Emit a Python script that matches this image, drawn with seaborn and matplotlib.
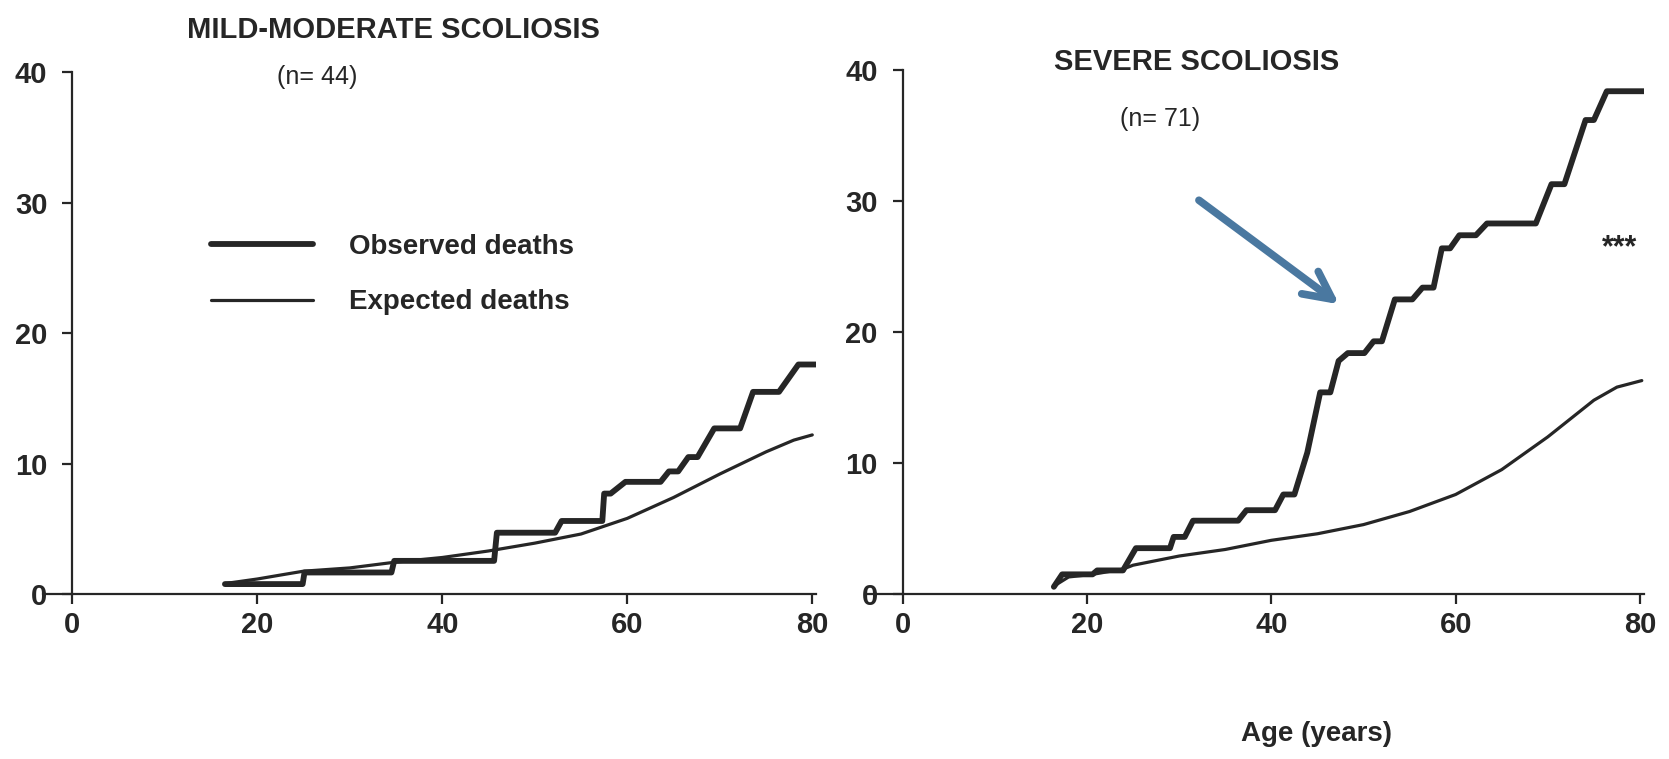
import numpy as np
import pandas as pd
import seaborn as sns
import matplotlib.pyplot as plt

# --- datos ---
mild_obs_age = [16.5, 24.9, 25.1, 34.5, 34.8, 45.6, 45.9, 52.2, 52.9, 57.3, 57.5, 58.2, 59.8, 63.6,
                64.5, 65.5, 66.6, 67.6, 69.4, 72.2, 73.6, 76.4, 78.5, 80.4]
mild_obs_val = [0.76, 0.76, 1.65, 1.65, 2.54, 2.54, 4.7, 4.7, 5.6, 5.6, 7.7, 7.7, 8.6, 8.6,
                9.4, 9.4, 10.5, 10.5, 12.7, 12.7, 15.5, 15.5, 17.6, 17.6]
mild_exp_age = [16.5, 20, 22.9, 25, 30, 35, 40, 45, 50, 55, 60, 65, 70, 75, 78, 80]
mild_exp_val = [0.8, 1.15, 1.5, 1.75, 2.0, 2.45, 2.8, 3.3, 3.9, 4.6, 5.8, 7.4, 9.2, 10.9, 11.8, 12.2]

sev_obs_age = [16.4, 17.3, 20.6, 21.1, 23.9, 25.3, 29.0, 29.4, 30.6, 31.5, 36.4, 37.3, 40.4, 41.3,
               42.5, 43.9, 45.3, 46.4, 47.3, 48.3, 50.1, 51.1, 52.0, 53.4, 55.3, 56.4, 57.6, 58.5,
               59.4, 60.4, 62.2, 63.4, 68.7, 70.4, 71.8, 74.1, 75.0, 76.4, 80.6]
sev_obs_val = [0.55, 1.5, 1.5, 1.8, 1.8, 3.5, 3.5, 4.36, 4.36, 5.6, 5.6, 6.4, 6.4, 7.6,
               7.6, 10.8, 15.4, 15.4, 17.8, 18.4, 18.4, 19.3, 19.3, 22.5, 22.5, 23.4, 23.4, 26.4,
               26.4, 27.4, 27.4, 28.3, 28.3, 31.3, 31.3, 36.2, 36.2, 38.4, 38.4]
sev_exp_age = [16.4, 18, 20.6, 23.9, 25, 30, 35, 40, 45, 50, 55, 60, 65, 70, 75, 77.5, 80.2]
sev_exp_val = [0.6, 1.3, 1.5, 1.9, 2.2, 2.9, 3.4, 4.1, 4.6, 5.3, 6.3, 7.6, 9.5, 12.0, 14.8, 15.8, 16.3]

x_ticks = [0, 20, 40, 60, 80]
y_ticks = [0, 10, 20, 30, 40]

sns.set_style("ticks")
plt.rcParams['font.family'] = ['Liberation Sans', 'DejaVu Sans']
plt.rcParams['font.weight'] = 'bold'

ink = "#262626"
fig = plt.figure(figsize=(16.69, 7.59), dpi=100, facecolor="white")
ax1 = fig.add_axes([0.0256, 0.2174, 0.4633, 0.6872])
ax2 = fig.add_axes([0.5188, 0.2174, 0.4660, 0.6900])


def panel(ax, obs_x, obs_y, exp_x, exp_y, xmin):
    df_obs = pd.DataFrame({"age": obs_x, "deaths": obs_y})
    df_exp = pd.DataFrame({"age": exp_x, "deaths": exp_y})
    sns.lineplot(data=df_obs, x="age", y="deaths", sort=False, estimator=None,
                 color=ink, lw=4.2, ax=ax, label="Observed deaths")
    sns.lineplot(data=df_exp, x="age", y="deaths", sort=False, estimator=None,
                 color=ink, lw=2.3, ax=ax, label="Expected deaths")
    ax.set_xlim(xmin, 80.4)
    ax.set_ylim(0, 40)
    ax.set_xticks(x_ticks)
    ax.set_yticks(y_ticks)
    ax.spines['left'].set_position(('data', 0))
    for s in ['top', 'right']:
        ax.spines[s].set_visible(False)
    for s in ['left', 'bottom']:
        ax.spines[s].set_linewidth(1.6)
        ax.spines[s].set_color(ink)
    ax.tick_params(axis='y', length=7, width=1.6, pad=11, labelsize=21, colors=ink)
    ax.tick_params(axis='x', length=7, width=1.6, pad=5, labelsize=21, colors=ink)
    for lab in ax.get_xticklabels() + ax.get_yticklabels():
        lab.set_fontweight('bold')
    ax.set_xlabel("")
    ax.set_ylabel("")


panel(ax1, mild_obs_age, mild_obs_val, mild_exp_age, mild_exp_val, -3.2)
panel(ax2, sev_obs_age, sev_obs_val, sev_exp_age, sev_exp_val, -4.0)

leg = ax1.legend(loc='upper left', bbox_to_anchor=(0.217, 0.69), frameon=False,
                 fontsize=20, handlelength=3.7, handletextpad=1.3, labelspacing=1.05,
                 borderpad=0, borderaxespad=0)
for t in leg.get_texts():
    t.set_color(ink)
    t.set_fontweight('bold')
ax2.get_legend().remove()

# titulos y anotaciones
fig.text(0.2355, 0.96, "MILD-MODERATE SCOLIOSIS", ha='center', va='center',
         fontsize=21, fontweight='bold', color=ink)
fig.text(0.190, 0.899, "(n= 44)", ha='center', va='center', fontsize=18,
         fontweight='normal', color=ink)
fig.text(0.717, 0.918, "SEVERE SCOLIOSIS", ha='center', va='center',
         fontsize=21, fontweight='bold', color=ink)
fig.text(0.695, 0.843, "(n= 71)", ha='center', va='center', fontsize=18,
         fontweight='normal', color=ink)
fig.text(0.789, 0.033, "Age (years)", ha='center', va='center', fontsize=20,
         fontweight='bold', color=ink)
ax2.text(77.8, 26.4, "***", ha='center', va='center', fontsize=22,
         fontweight='bold', color=ink)

ax2.annotate("", xy=(47.6, 22.0), xytext=(31.9, 30.2),
             arrowprops=dict(arrowstyle="->, head_length=2.0, head_width=1.0",
                             color="#4a78a0", lw=5.5, capstyle='round',
                             joinstyle='round'))

fig.savefig("out.png", dpi=100, facecolor="white")
